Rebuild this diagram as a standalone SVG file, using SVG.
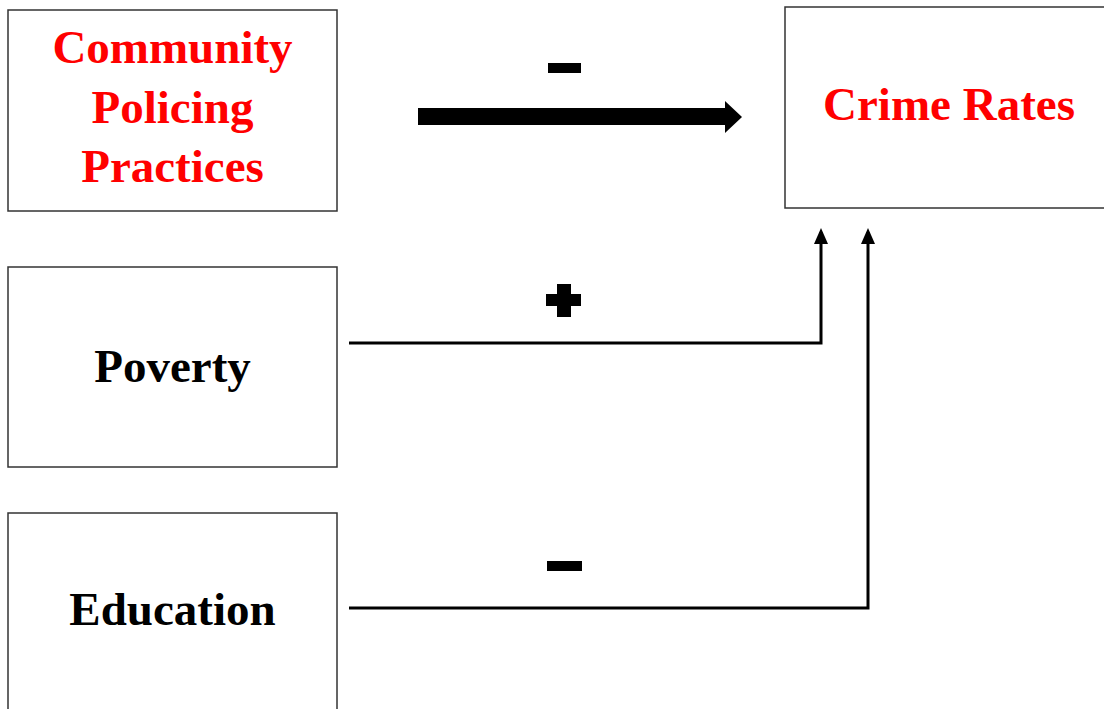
<svg xmlns="http://www.w3.org/2000/svg" width="1104" height="709" viewBox="0 0 1104 709">
<style>
.box{fill:#fff;stroke:#333;stroke-width:1.5}
.t{font-family:"Liberation Serif",serif;font-weight:bold;font-size:47px;text-anchor:middle}
.red{fill:#ff0000}
.blk{fill:#000}
.conn{fill:none;stroke:#000;stroke-width:3}
.head{fill:#000}
</style>
<rect width="1104" height="709" fill="#fff"/>
<g id="node-community">
<rect class="box" x="8" y="10" width="329" height="201"/>
<text class="t red" x="172.5" y="63">Community</text>
<text class="t red" x="172.5" y="123">Policing</text>
<text class="t red" x="172.5" y="182">Practices</text>
</g>
<g id="node-crime">
<rect class="box" x="785" y="7" width="330" height="201"/>
<text class="t red" x="949" y="120">Crime Rates</text>
</g>
<g id="node-poverty">
<rect class="box" x="8" y="267" width="329" height="200"/>
<text class="t blk" x="172.5" y="382">Poverty</text>
</g>
<g id="node-education">
<rect class="box" x="8" y="513" width="329" height="210"/>
<text class="t blk" x="172.5" y="625">Education</text>
</g>
<g id="connectors">
<polygon class="head" points="418,108 725,108 725,101 742,117 725,133 725,125 418,125"/>
<rect class="head" x="548" y="63" width="33" height="10"/>
<path class="conn" d="M349 343 H821 V232"/>
<path class="head" d="M821 228 L828 244 L814 244 Z"/>
<polygon class="head" points="557,284 571,284 571,294 581,294 581,306 571,306 571,317 557,317 557,306 546,306 546,294 557,294"/>
<path class="conn" d="M349 608 H868 V232"/>
<path class="head" d="M868 228 L875 244 L861 244 Z"/>
<rect class="head" x="547" y="561" width="35" height="10"/>
</g>
</svg>
